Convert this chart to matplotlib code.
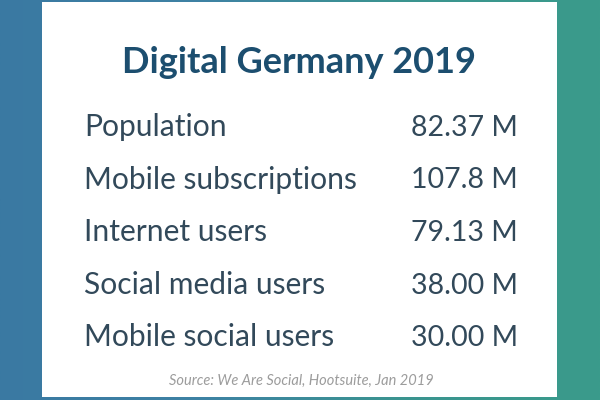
"""Digital Germany 2019 stat card."""

import numpy as np
import matplotlib.pyplot as plt
from matplotlib.colors import LinearSegmentedColormap
from matplotlib.patches import Rectangle

TITLE = "Digital Germany 2019"
SOURCE = "Source: We Are Social, Hootsuite, Jan 2019"

# Rows of the card
labels = [
    "Population",
    "Mobile subscriptions",
    "Internet users",
    "Social media users",
    "Mobile social users",
]
values = ["82.37 M", "107.8 M", "79.13 M", "38.00 M", "30.00 M"]

plt.rcParams["font.family"] = ["Lato", "DejaVu Sans"]

fig = plt.figure(figsize=(6, 4), dpi=100)
ax = fig.add_axes([0, 0, 1, 1])
ax.set_xlim(0, 600)
ax.set_ylim(400, 0)
ax.axis("off")

# Background gradient: blue on the left, teal on the right
cmap = LinearSegmentedColormap.from_list("bg", ["#3a79a2", "#3e82a4", "#3b9490", "#3a9b8b"])
grad = np.linspace(0, 1, 256)[None, :]
ax.imshow(grad, extent=(0, 600, 400, 0), aspect="auto", cmap=cmap, zorder=0)

# White card
ax.add_patch(Rectangle((42, 2), 515, 395, facecolor="white", edgecolor="none", zorder=1))

ax.text(299, 73, TITLE, ha="center", va="baseline", fontsize=26, fontweight="bold",
        color="#1c4e6f", zorder=2)

# baselines of the rows
row_y = [136, 188.5, 241, 293.5, 346]
for y, lab, val in zip(row_y, labels, values):
    ax.text(84, y, lab, ha="left", va="baseline", fontsize=21.6, color="#32495a", zorder=2)
    ax.text(518, y, val, ha="right", va="baseline", fontsize=20.5, color="#32495a", zorder=2)

ax.text(301, 385, SOURCE, ha="center", va="baseline", fontsize=10.5, style="italic",
        color="#9c9c9c", zorder=2)

fig.savefig("out.png", dpi=100)
plt.close(fig)
